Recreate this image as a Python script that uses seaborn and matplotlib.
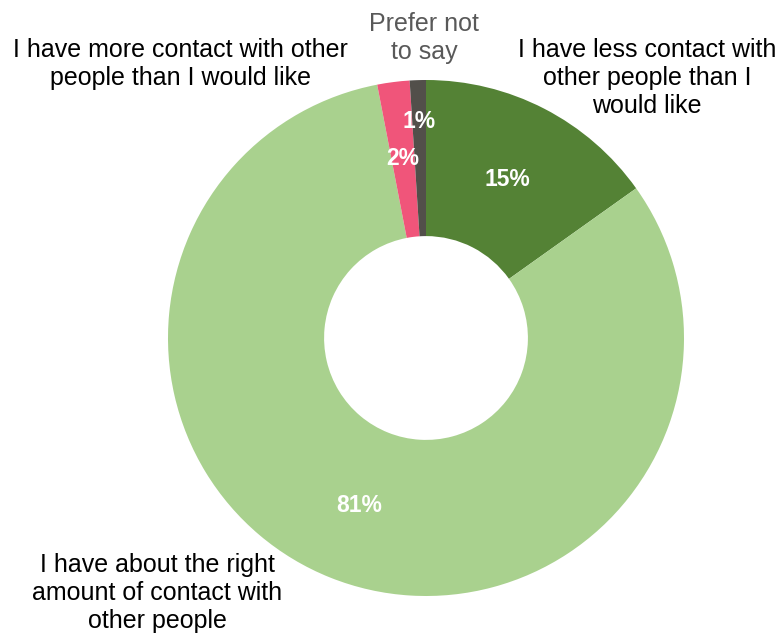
import numpy as np
import matplotlib
matplotlib.use("Agg")
import matplotlib.pyplot as plt
import seaborn as sns

# Survey responses about the amount of social contact
categories = [
    "I have less contact with\nother people than I\nwould like",
    "I have about the right\namount of contact with\nother people",
    "I have more contact with other\npeople than I would like",
    "Prefer not\nto say",
]
values = [15, 81, 2, 1]
pct_labels = ["15%", "81%", "2%", "1%"]

sns.set_theme(style="white")
plt.rcParams["font.family"] = ["Liberation Sans", "DejaVu Sans"]

colors = ["#548235", "#A9D18E", "#F0557A", "#524F4A"]

fig = plt.figure(figsize=(7.82, 6.39), dpi=100)
W, H = 782, 639
cx, cy, R = 426, 338, 258
ax = fig.add_axes([(cx - R) / W, (H - cy - R) / H, 2 * R / W, 2 * R / H])

wedges, _ = ax.pie(
    values,
    colors=colors,
    startangle=90,
    counterclock=False,
    radius=1.0,
    wedgeprops=dict(width=0.605, edgecolor="none"),
)
ax.set_xlim(-1, 1)
ax.set_ylim(-1, 1)
ax.set_aspect("equal")
ax.axis("off")

# Percentage labels placed at the middle angle of each wedge
label_r = [0.69, 0.70, 0.70, 0.84]
for w, txt, r in zip(wedges, pct_labels, label_r):
    mid = np.deg2rad((w.theta1 + w.theta2) / 2)
    ax.text(r * np.cos(mid), r * np.sin(mid), txt, ha="center", va="center",
            color="white", fontsize=16.5, fontweight="bold")


def px(x, y):
    return (x - cx) / R, (cy - y) / R


# Category labels around the ring
label_pos = [(647, 78), (157, 593), (180, 64), (424, 38)]
label_col = ["#000000", "#000000", "#000000", "#595959"]
for txt, (x, y), c in zip(categories, label_pos, label_col):
    ax.text(*px(x, y), txt, ha="center", va="center", fontsize=18,
            color=c, linespacing=1.22, clip_on=False)

fig.savefig("out.png", dpi=100)
